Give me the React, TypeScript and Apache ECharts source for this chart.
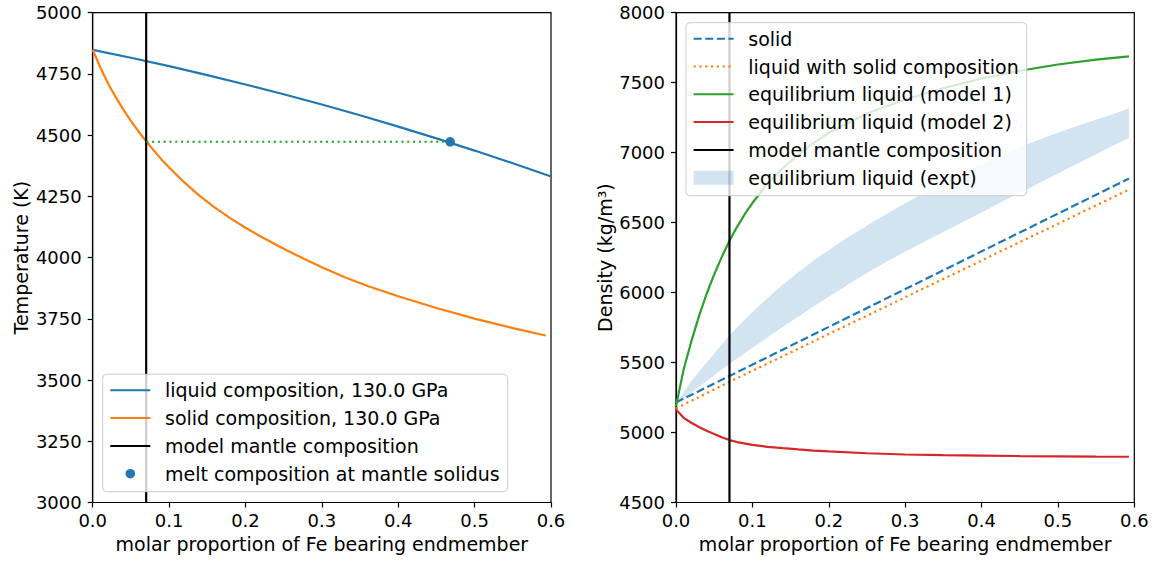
import React, { useEffect, useRef } from "react";
import * as echarts from "echarts";

// ---- Left panel data ----
const liquidX = [0, 0.05, 0.1, 0.15, 0.2, 0.25, 0.3, 0.35, 0.4, 0.45, 0.5, 0.55, 0.6];
const liquidT = [4848, 4816, 4782, 4745, 4707, 4667, 4625, 4581, 4535, 4487, 4437, 4385, 4331];

const solidX = [0, 0.01, 0.02, 0.03, 0.04, 0.05, 0.06, 0.07, 0.08, 0.09, 0.1, 0.12, 0.14, 0.16, 0.18, 0.2, 0.22, 0.25, 0.28, 0.3, 0.33, 0.36, 0.4, 0.45, 0.5, 0.55, 0.593];
const solidT = [4848, 4776, 4712, 4656, 4605, 4558, 4515, 4475, 4437, 4401, 4368, 4307, 4252, 4204, 4161, 4122, 4086, 4036, 3990, 3961, 3920, 3884, 3842, 3794, 3751, 3712, 3682];

const mantleX = 0.07;
const meltPoint = [0.468, 4473];
const solidusT = 4473;

// ---- Right panel data ----
const solidDensX = [0, 0.07, 0.593];
const solidDens = [5215, 5404, 6815];

const liqSolidX = [0, 0.07, 0.593];
const liqSolidDens = [5172, 5362, 6736];

const eq1X = [0, 0.01, 0.02, 0.03, 0.04, 0.05, 0.06, 0.07, 0.08, 0.09, 0.1, 0.12, 0.14, 0.16, 0.18, 0.2, 0.25, 0.3, 0.35, 0.4, 0.45, 0.5, 0.55, 0.593];
const eq1Dens = [5190, 5450, 5650, 5830, 5990, 6130, 6255, 6370, 6470, 6560, 6640, 6780, 6890, 6985, 7070, 7140, 7280, 7380, 7460, 7530, 7585, 7630, 7665, 7688];

const eq2X = [0, 0.01, 0.02, 0.03, 0.04, 0.05, 0.06, 0.07, 0.08, 0.1, 0.12, 0.14, 0.16, 0.18, 0.2, 0.25, 0.3, 0.35, 0.4, 0.45, 0.5, 0.55, 0.593];
const eq2Dens = [5165, 5105, 5070, 5040, 5013, 4990, 4966, 4946, 4932, 4912, 4898, 4888, 4879, 4871, 4865, 4852, 4843, 4838, 4835, 4832, 4830, 4828, 4827];

const bandX = [0, 0.01, 0.02, 0.03, 0.04, 0.05, 0.06, 0.07, 0.08, 0.09, 0.1, 0.12, 0.14, 0.16, 0.18, 0.2, 0.225, 0.25, 0.275, 0.3, 0.325, 0.35, 0.375, 0.4, 0.425, 0.45, 0.475, 0.5, 0.525, 0.55, 0.575, 0.593];
const bandLow = [5200, 5243, 5285, 5327, 5368, 5409, 5450, 5490, 5529, 5567, 5605, 5680, 5755, 5828, 5900, 5970, 6056, 6140, 6218, 6292, 6363, 6433, 6503, 6573, 6643, 6712, 6782, 6851, 6920, 6989, 7058, 7105];
const bandHigh = [5200, 5290, 5365, 5435, 5500, 5565, 5630, 5693, 5750, 5806, 5860, 5962, 6058, 6146, 6228, 6305, 6395, 6480, 6560, 6638, 6712, 6783, 6852, 6918, 6980, 7038, 7092, 7143, 7190, 7235, 7280, 7318];

const xTickMin = 0;
const xTickMax = 0.6;
const xTickStep = 0.1;
const leftYMin = 3000, leftYMax = 5000, leftYStep = 250;
const rightYMin = 4500, rightYMax = 8000, rightYStep = 500;

const FONT = "DejaVu Sans";
const FS = 19;
const TICK_FS = 18;
const BLUE = "#1f77b4";
const ORANGE = "#ff7f0e";
const GREEN = "#2ca02c";
const RED = "#d62728";
const BAND = "rgba(31,119,180,0.2)";
const LW = 2.2;

const zip = (xs: number[], ys: number[]) => xs.map((x, i) => [x, ys[i]]);

export default function App() {
  const ref = useRef<HTMLDivElement>(null);
  useEffect(() => {
    document.body.style.margin = "0";
    if (!ref.current) return;
    const chart = echarts.init(ref.current, null, { renderer: "svg" });

    const axisLine = { show: true, onZero: false, lineStyle: { color: "#000", width: 1.2 } };
    const axisTick = { show: true, length: 5, lineStyle: { color: "#000", width: 1.2 } };
    const labelBase = { color: "#000", fontSize: TICK_FS, fontFamily: FONT, showMinLabel: true, showMaxLabel: true };
    const nameStyle = { color: "#000", fontSize: FS, fontFamily: FONT };

    const mkX = (gi: number) => ({
      type: "value",
      gridIndex: gi,
      min: xTickMin,
      max: xTickMax,
      interval: xTickStep,
      axisLine,
      axisTick,
      splitLine: { show: false },
      axisLabel: { ...labelBase, margin: 9, formatter: (v: number) => v.toFixed(1) },
      name: "molar proportion of Fe bearing endmember",
      nameLocation: "middle",
      nameGap: 31,
      nameTextStyle: nameStyle,
    });

    const mkY = (gi: number, min: number, max: number, step: number, name: string, gap: number) => ({
      type: "value",
      gridIndex: gi,
      min,
      max,
      interval: step,
      axisLine,
      axisTick,
      splitLine: { show: false },
      axisLabel: { ...labelBase, margin: 11, formatter: (v: number) => String(v) },
      name,
      nameLocation: "middle",
      nameGap: gap,
      nameTextStyle: nameStyle,
    });

    const legendBase = {
      orient: "vertical",
      itemWidth: 40,
      itemGap: 8.8,
      padding: [6.5, 8, 8.5, 6.6],
      backgroundColor: "rgba(255,255,255,0.8)",
      borderColor: "#cccccc",
      borderWidth: 1,
      borderRadius: 4,
      selectedMode: false,
      z: 10,
      itemStyle: { opacity: 0 },
      textStyle: { fontSize: FS, fontFamily: FONT, color: "#000", lineHeight: 19, padding: [0, 0, 0, 9.7] },
    };

    const line = (name: string, data: number[][], color: string, gi: number, extra: any = {}) => ({
      type: "line",
      name,
      xAxisIndex: gi,
      yAxisIndex: gi,
      data,
      symbol: "none",
      showSymbol: false,
      smooth: false,
      color,
      lineStyle: { color, width: LW, ...(extra.lineStyle || {}) },
      z: extra.z ?? 3,
      silent: true,
    });

    const option: any = {
      animation: false,
      backgroundColor: "#fff",
      textStyle: { fontFamily: FONT },
      grid: [
        { left: 92.7, top: 12.7, width: 458.3, height: 489.8, show: true, borderColor: "#000", borderWidth: 1.2, backgroundColor: "transparent" },
        { left: 676, top: 12.7, width: 458.3, height: 489.8, show: true, borderColor: "#000", borderWidth: 1.2, backgroundColor: "transparent" },
      ],
      xAxis: [mkX(0), mkX(1)],
      yAxis: [
        mkY(0, leftYMin, leftYMax, leftYStep, "Temperature (K)", 62),
        mkY(1, rightYMin, rightYMax, rightYStep, "Density (kg/m³)", 62),
      ],
      legend: [
        {
          ...legendBase,
          left: 102.7,
          top: 374.3,
          itemHeight: 9.5,
          data: [
            { name: "liquid composition, 130.0 GPa" },
            { name: "solid composition, 130.0 GPa" },
            { name: "model mantle composition" },
            { name: "melt composition at mantle solidus", icon: "circle", itemStyle: { color: BLUE, opacity: 1 } },
          ],
        },
        {
          ...legendBase,
          left: 686,
          top: 22.7,
          itemHeight: 14,
          data: [
            { name: "solid" },
            { name: "liquid with solid composition" },
            { name: "equilibrium liquid (model 1)" },
            { name: "equilibrium liquid (model 2)" },
            { name: "model mantle composition" },
            { name: "equilibrium liquid (expt)", icon: "rect", itemStyle: { color: BAND, opacity: 1 } },
          ],
        },
      ],
      series: [
        // left panel
        line("liquid composition, 130.0 GPa", zip(liquidX, liquidT), BLUE, 0),
        line("solid composition, 130.0 GPa", zip(solidX, solidT), ORANGE, 0),
        line("model mantle composition", [[mantleX, leftYMin], [mantleX, leftYMax]], "#000", 0),
        line("solidus level", [[mantleX, solidusT], meltPoint], GREEN, 0, { lineStyle: { type: [2.2, 3.6] } }),
        {
          type: "scatter",
          name: "melt composition at mantle solidus",
          xAxisIndex: 0,
          yAxisIndex: 0,
          data: [meltPoint],
          symbol: "circle",
          symbolSize: 9.5,
          itemStyle: { color: BLUE, opacity: 1 },
          z: 4,
          silent: true,
        },
        // right panel band
        {
          type: "custom",
          name: "equilibrium liquid (expt)",
          xAxisIndex: 1,
          yAxisIndex: 1,
          data: bandX.map((x, i) => [x, bandLow[i], bandHigh[i]]),
          encode: { x: 0, y: [1, 2] },
          itemStyle: { color: BAND },
          clip: true,
          z: 1,
          silent: true,
          renderItem: (params: any, api: any) => {
            if (params.dataIndex !== 0) return null;
            const upper = bandX.map((x, i) => api.coord([x, bandHigh[i]]));
            const lower = bandX.map((x, i) => api.coord([x, bandLow[i]])).reverse();
            return {
              type: "polygon",
              shape: { points: upper.concat(lower) },
              style: { fill: BAND, stroke: "none" },
            };
          },
        },
        line("solid", zip(solidDensX, solidDens), BLUE, 1, { lineStyle: { type: [8.1, 3.5] } }),
        line("liquid with solid composition", zip(liqSolidX, liqSolidDens), ORANGE, 1, { lineStyle: { type: [2.2, 3.6] } }),
        line("equilibrium liquid (model 1)", zip(eq1X, eq1Dens), GREEN, 1),
        line("equilibrium liquid (model 2)", zip(eq2X, eq2Dens), RED, 1),
        line("model mantle composition", [[mantleX, rightYMin], [mantleX, rightYMax]], "#000", 1),
      ],
    };
    chart.setOption(option);
    return () => chart.dispose();
  }, []);
  return <div ref={ref} style={{ width: 1158, height: 561 }} />;
}
